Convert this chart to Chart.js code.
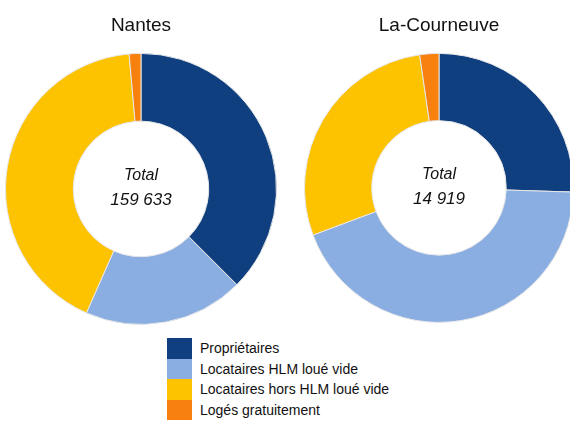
<!DOCTYPE html>
<html lang="fr">
<head>
<meta charset="utf-8">
<title>Statut d'occupation des résidences principales</title>
<script src="https://cdn.jsdelivr.net/npm/chart.js@4/dist/chart.umd.min.js"></script>
<style>
  html, body {
    margin: 0;
    padding: 0;
    background: #fff;
    width: 570px;
    height: 421px;
    overflow: hidden;
    position: relative;
    font-family: "Liberation Sans", Arial, Helvetica, sans-serif;
  }
  .pie {
    position: absolute;
  }
  #pie-nantes { left: 5px; top: 0; width: 272px; height: 325px; }
  #pie-courneuve { left: 304px; top: 0; width: 270px; height: 323px; }
  #legend {
    position: absolute;
    left: 167px;
    top: 338px;
  }
  .leg-row {
    display: flex;
    align-items: center;
    height: 20.5px;
    font-size: 14px;
    color: #111;
  }
  .leg-box {
    width: 25px;
    height: 20.5px;
    margin-right: 8px;
  }
</style>
</head>
<body>
<div class="pie" id="pie-nantes"><canvas id="chart-nantes"></canvas></div>
<div class="pie" id="pie-courneuve"><canvas id="chart-courneuve"></canvas></div>
<div id="legend"></div>

<script>
const categories = [
  "Propriétaires",
  "Locataires HLM loué vide",
  "Locataires hors HLM loué vide",
  "Logés gratuitement",
];
const colors = ["#0f3f7e", "#8aaee2", "#fdc300", "#f8800f"];

// nombre de résidences principales par statut
const nantesValues = [59860, 30490, 67050, 2233];
const courneuveValues = [3804, 6535, 4237, 343];

function el(id) {
  return document.getElementById(id);
}

function formatTotal(n) {
  return String(n).replace(/\B(?=(\d{3})+(?!\d))/g, " ");
}

// writes "Total" and the summed value in the hole of the doughnut
const centerTotal = {
  id: "centerTotal",
  afterDatasetsDraw(chart) {
    const arc = chart.getDatasetMeta(0).data[0];
    if (!arc) return;
    const total = chart.data.datasets[0].data.reduce((a, b) => a + b, 0);
    const ctx = chart.ctx;
    ctx.save();
    ctx.fillStyle = "#111";
    ctx.textAlign = "center";
    ctx.textBaseline = "middle";
    ctx.font = 'italic 16px "Liberation Sans", Arial, sans-serif';
    ctx.fillText("Total", arc.x, arc.y - 13);
    ctx.font = 'italic 17px "Liberation Sans", Arial, sans-serif';
    ctx.fillText(formatTotal(total), arc.x, arc.y + 11);
    ctx.restore();
  },
};

function makeDoughnut(canvasId, title, values) {
  return new Chart(el(canvasId), {
    type: "doughnut",
    data: {
      labels: categories,
      datasets: [
        {
          data: values,
          backgroundColor: colors,
          borderColor: "#e6e6e6",
          borderWidth: 1,
        },
      ],
    },
    options: {
      responsive: true,
      maintainAspectRatio: false,
      animation: false,
      cutout: "50%",
      layout: { padding: 0 },
      plugins: {
        legend: { display: false },
        tooltip: { enabled: false },
        title: {
          display: true,
          text: title,
          color: "#111",
          font: { size: 19, weight: "normal", family: '"Liberation Sans", Arial, sans-serif' },
          padding: { top: 14, bottom: 16 },
        },
      },
    },
    plugins: [centerTotal],
  });
}

function buildLegend() {
  const box = el("legend");
  categories.forEach((label, i) => {
    const row = document.createElement("div");
    row.className = "leg-row";
    const swatch = document.createElement("span");
    swatch.className = "leg-box";
    swatch.style.background = colors[i];
    const text = document.createElement("span");
    text.textContent = label;
    row.appendChild(swatch);
    row.appendChild(text);
    box.appendChild(row);
  });
}

makeDoughnut("chart-nantes", "Nantes", nantesValues);
makeDoughnut("chart-courneuve", "La-Courneuve", courneuveValues);
buildLegend();
</script>
</body>
</html>
